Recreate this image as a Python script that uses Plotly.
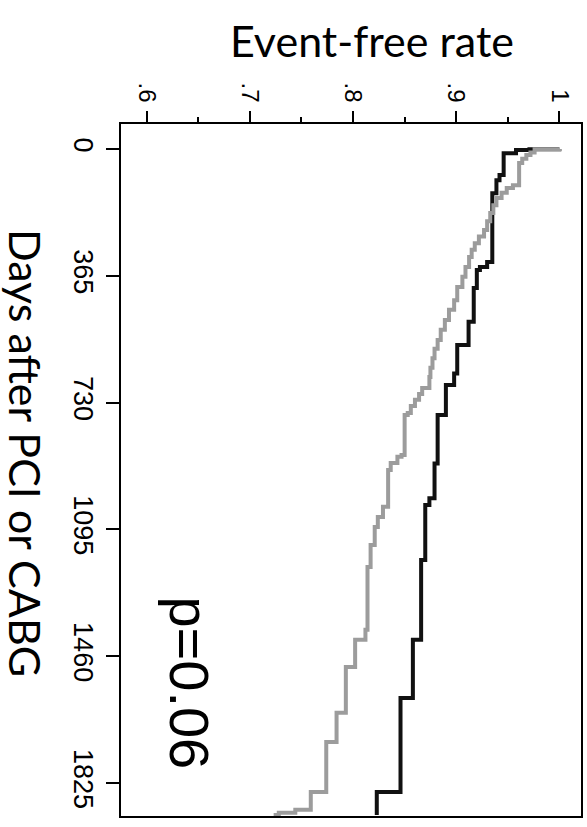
import plotly.graph_objects as go

# Black curve (days, event-free rate)
black_days = [0, 1, 3, 12, 75, 90, 127, 325, 340, 348, 400, 497, 564, 646, 679, 766, 905, 1005, 1025, 1183, 1413, 1580, 1851, 1917]
black_rate = [1.0, 0.971, 0.958, 0.946, 0.942, 0.939, 0.935, 0.930, 0.923, 0.920, 0.917, 0.912, 0.901, 0.898, 0.890, 0.882, 0.879, 0.874, 0.870, 0.866, 0.858, 0.846, 0.823, 0.823]

# Gray curve (days, event-free rate)
gray_days = [0, 1, 10, 17, 28, 40, 104, 112, 126, 141, 162, 184, 208, 233, 252, 271, 290, 311, 340, 368, 397, 435, 463, 492, 520, 550, 575, 602, 630, 656, 688, 705, 722, 740, 760, 766, 881, 886, 904, 924, 1030, 1059, 1088, 1140, 1203, 1384, 1413, 1491, 1623, 1707, 1851, 1902, 1911, 1917]
gray_rate = [1.0, 0.976, 0.972, 0.968, 0.964, 0.961, 0.955, 0.949, 0.944, 0.939, 0.936, 0.933, 0.930, 0.927, 0.922, 0.918, 0.915, 0.9125, 0.909, 0.906, 0.901, 0.898, 0.893, 0.889, 0.885, 0.882, 0.879, 0.877, 0.875, 0.874, 0.867, 0.864, 0.860, 0.856, 0.853, 0.850, 0.847, 0.843, 0.8365, 0.834, 0.829, 0.824, 0.821, 0.817, 0.814, 0.812, 0.802, 0.793, 0.784, 0.774, 0.759, 0.744, 0.728, 0.723]

rate_ticks = [0.6, 0.7, 0.8, 0.9, 1.0]
rate_labels = [".6", ".7", ".8", ".9", "1"]
day_ticks = [0, 365, 730, 1095, 1460, 1825]
day_labels = ["0", "365", "730", "1095", "1460", "1825"]

fig = go.Figure()
fig.add_trace(go.Scatter(x=black_rate, y=black_days, mode="lines", line=dict(color="#111111", width=4, shape="vh"), showlegend=False))
fig.add_trace(go.Scatter(x=gray_rate, y=gray_days, mode="lines", line=dict(color="#9c9c9c", width=4, shape="vh"), showlegend=False))

fig.update_layout(
    width=587, height=827,
    margin=dict(l=121, r=4, t=124, b=11),
    paper_bgcolor="white", plot_bgcolor="white",
    font=dict(family="Liberation Sans", color="black"),
    xaxis=dict(side="top", range=[0.575, 1.021], tickvals=rate_ticks, ticktext=rate_labels,
               tickangle=90, ticks="outside", ticklen=11, tickwidth=2, tickcolor="black",
               minor=dict(dtick=0.05, ticks="outside", ticklen=5, tickwidth=2, tickcolor="black"),
               showgrid=False, zeroline=False, showline=True, linewidth=2, linecolor="black", mirror=True,
               tickfont=dict(size=24, family="Liberation Sans")),
    yaxis=dict(range=[1920, -72], tickvals=day_ticks, ticktext=day_labels,
               tickangle=90, ticks="outside", ticklen=13, tickwidth=2, tickcolor="black",
               showgrid=False, zeroline=False, showline=True, linewidth=2, linecolor="black", mirror=True,
               tickfont=dict(size=27, family="Liberation Sans")),
    annotations=[
        dict(text="Event-free rate", xref="paper", yref="paper", x=0.545, y=1.12,
             xanchor="center", yanchor="middle", showarrow=False,
             font=dict(size=43, family="Lato")),
        dict(text="Days after PCI or CABG", xref="paper", yref="paper", x=-0.208, y=0.524,
             xanchor="center", yanchor="middle", showarrow=False, textangle=90,
             font=dict(size=43, family="Lato")),
        dict(text="p=0.06", xref="x", yref="y", x=0.6405, y=1537,
             xanchor="center", yanchor="middle", showarrow=False, textangle=90,
             font=dict(size=56, family="Liberation Sans")),
    ],
)

fig.write_html("out.html")
